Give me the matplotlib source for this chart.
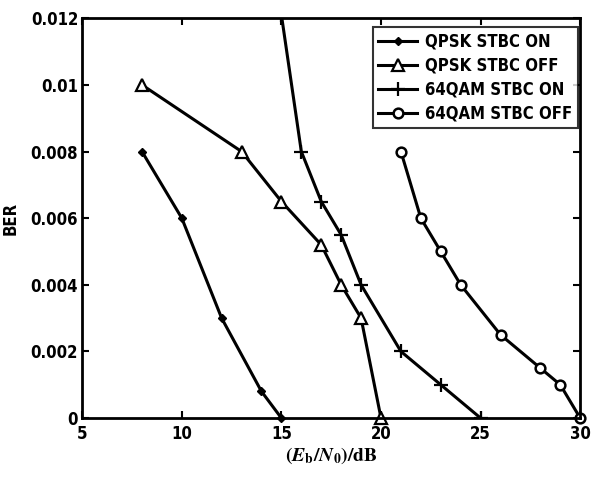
import matplotlib
matplotlib.use('Agg')
import matplotlib.pyplot as plt

# BER vs Eb/N0 curves
qpsk_on_x = [8, 10, 12, 14, 15]
qpsk_on_y = [0.008, 0.006, 0.003, 0.0008, 0.0]

qpsk_off_x = [8, 13, 15, 17, 18, 19, 20]
qpsk_off_y = [0.010, 0.008, 0.0065, 0.0052, 0.004, 0.003, 0.0]

qam_on_x = [15, 16, 17, 18, 19, 21, 23, 25]
qam_on_y = [0.0121, 0.008, 0.0065, 0.0055, 0.004, 0.002, 0.001, 0.0]

qam_off_x = [21, 22, 23, 24, 26, 28, 29, 30]
qam_off_y = [0.008, 0.006, 0.005, 0.004, 0.0025, 0.0015, 0.001, 0.0]

labels = ['QPSK STBC ON', 'QPSK STBC OFF', '64QAM STBC ON', '64QAM STBC OFF']

plt.rcParams['font.family'] = ['Liberation Sans Narrow', 'DejaVu Sans']
plt.rcParams['font.stretch'] = 'condensed'
plt.rcParams['font.weight'] = 'bold'
plt.rcParams['mathtext.fontset'] = 'stix'

fig = plt.figure(figsize=(6, 4.8), dpi=100)
ax = fig.add_axes([0.137, 0.129, 0.83, 0.833])

lw = 2.2
ax.plot(qpsk_on_x, qpsk_on_y, color='black', lw=lw, marker='D', ms=4.5,
        mfc='black', mec='black', label=labels[0], clip_on=False)
ax.plot(qpsk_off_x, qpsk_off_y, color='black', lw=lw, marker='^', ms=8,
        mfc='white', mec='black', mew=1.6, label=labels[1], clip_on=False)
ax.plot(qam_on_x, qam_on_y, color='black', lw=lw, marker='+', ms=10,
        mew=1.6, label=labels[2])
ax.plot(qam_off_x, qam_off_y, color='black', lw=lw, marker='o', ms=7,
        mfc='white', mec='black', mew=1.8, label=labels[3], clip_on=False)

ax.set_xlim(5, 30)
ax.set_ylim(0, 0.012)
ax.set_xticks([5, 10, 15, 20, 25, 30])
ax.set_yticks([0, 0.002, 0.004, 0.006, 0.008, 0.01, 0.012])
ax.set_yticklabels(['0', '0.002', '0.004', '0.006', '0.008', '0.01', '0.012'])
ax.tick_params(direction='in', top=True, right=True, labelsize=12, width=1.5, length=5)
ax.tick_params(axis='y', pad=3)
ax.tick_params(axis='x', pad=5)
for s in ax.spines.values():
    s.set_linewidth(2)

ax.set_ylabel('BER', fontsize=12, fontweight='bold', labelpad=8)
ax.set_xlabel(r'$\mathbf{(}\boldsymbol{E}_{\mathbf{b}}\mathbf{/}\boldsymbol{N}_{\mathbf{0}}\mathbf{)/dB}$',
              fontsize=14, labelpad=2)

leg = ax.legend(loc='upper right', fontsize=12, frameon=True, fancybox=False,
                edgecolor='black', handlelength=2.3, borderpad=0.35,
                labelspacing=0.35, handletextpad=0.5, borderaxespad=0,
                bbox_to_anchor=(0.996, 0.978))
leg.get_frame().set_linewidth(1.5)

fig.savefig('out.png', dpi=100)
